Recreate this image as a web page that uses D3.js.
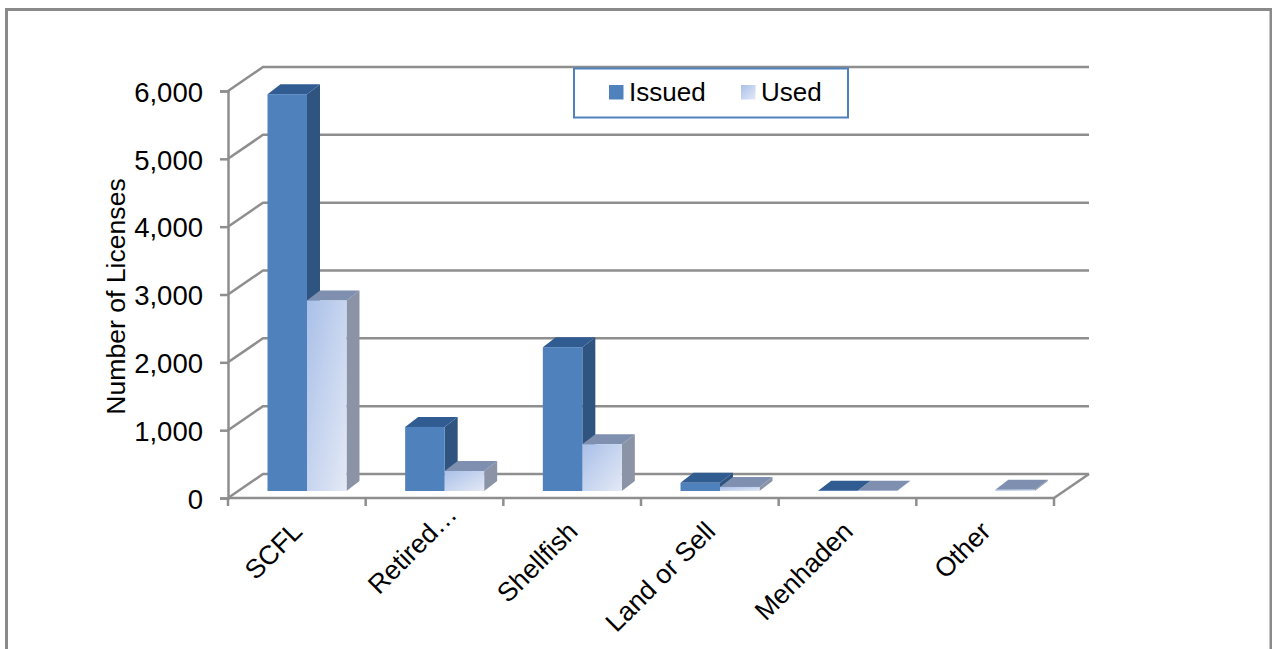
<!DOCTYPE html>
<html>
<head>
<meta charset="utf-8">
<script src="https://cdn.jsdelivr.net/npm/d3@7"></script>
<style>
  html, body { margin: 0; padding: 0; background: #fff; }
  svg { display: block; font-family: "Liberation Sans", Arial, sans-serif; fill: #000; }
</style>
</head>
<body>
<svg id="chart" width="1272" height="649"></svg>
<script>
// License counts by category
const categories = ["SCFL", "Retired\u2026", "Shellfish", "Land or Sell", "Menhaden", "Other"];
const issued = [5850, 945, 2120, 120, 5, 0];
const used = [2810, 295, 690, 60, 5, 20];
const yTicks = [0, 1000, 2000, 3000, 4000, 5000, 6000];
const seriesNames = ["Issued", "Used"];

const svg = d3.select("#chart");

// Plot geometry: front plane of the box, and the offset to its back wall
const plot = { left: 228, right: 1054, bottom: 498, top: 91 };
const wall = { dx: 35, dy: -24 };
const bar = { dx: 13, dy: -10, inset: 39.5, width: 39.5, floor: -7 };
const lineColor = "#8e8e8e";

const x = d3.scaleBand().domain(categories).range([plot.left, plot.right]);
const y = d3.scaleLinear().domain([0, 6000]).range([plot.bottom, plot.top]);

const palette = {
  issued: { front: "#4f81bd", side: "#2f5480", top: "#305c92" },
  used: { front: "url(#usedFill)", side: "#8b93a6", top: "#7f8fb0" }
};

// Pale blue fill of the second series
const defs = svg.append("defs");
const grad = defs.append("linearGradient").attr("id", "usedFill")
  .attr("x1", 0).attr("y1", 0).attr("x2", 1).attr("y2", 1);
grad.append("stop").attr("offset", "0%").attr("stop-color", "#a9c0e8");
grad.append("stop").attr("offset", "100%").attr("stop-color", "#e4e9f6");

// Outer frame
svg.append("path")
  .attr("d", "M6.5,649V9.5H1271V649")
  .attr("fill", "none").attr("stroke", "#8a8a8a").attr("stroke-width", 3);

// Back wall grid lines with their diagonals down to the axis
const grid = svg.append("g").attr("fill", "none")
  .attr("stroke", lineColor).attr("stroke-width", 2.5);
grid.selectAll("path").data(yTicks).join("path")
  .attr("d", t => d3.line()([
    [plot.left, y(t)],
    [plot.left + wall.dx, y(t) + wall.dy],
    [plot.right + wall.dx, y(t) + wall.dy]
  ]));
grid.append("path").attr("d", d3.line()([
  [plot.right, plot.bottom],
  [plot.right + wall.dx, plot.bottom + wall.dy]
]));

// Value axis
const yAxis = svg.append("g")
  .attr("transform", `translate(${plot.left},0)`)
  .call(d3.axisLeft(y).tickValues(yTicks).tickFormat(d3.format(",")).tickSize(8).tickPadding(17));
yAxis.selectAll("path, line").attr("stroke", lineColor).attr("stroke-width", 2.5);
yAxis.selectAll("text").attr("font-size", 27.5).attr("font-family", "inherit").attr("fill", "#000").attr("y", 1.5);

// Category axis: floor line, ticks on the band edges, slanted labels near the band centres
const xAxis = svg.append("g")
  .attr("transform", `translate(0,${plot.bottom})`)
  .call(d3.axisBottom(x).tickSize(0));
xAxis.select("path").remove();
xAxis.selectAll("text")
  .attr("font-size", 26.6).attr("font-family", "inherit").attr("fill", "#000")
  .attr("text-anchor", "end")
  .attr("dy", null).attr("y", 0)
  .attr("dx", d => d.endsWith("\u2026") ? "0.9em" : null)
  .attr("transform", "translate(7,35) rotate(-45)");
svg.append("line")
  .attr("x1", plot.left).attr("x2", plot.right)
  .attr("y1", plot.bottom).attr("y2", plot.bottom)
  .attr("stroke", lineColor).attr("stroke-width", 2.5);
const edges = categories.map(c => x(c)).concat([plot.right]);
svg.append("g").selectAll("line").data(edges).join("line")
  .attr("x1", d => d).attr("x2", d => d)
  .attr("y1", plot.bottom).attr("y2", plot.bottom + 8)
  .attr("stroke", lineColor).attr("stroke-width", 2.5);

// Axis title
svg.append("text")
  .attr("transform", "translate(125,296.5) rotate(-90)")
  .attr("text-anchor", "middle")
  .attr("font-size", 26.6)
  .text("Number of Licenses");

// Each bar is a box: front face, side face, top face
function drawBar(parent, x0, value, colors) {
  const x1 = x0 + bar.width;
  const base = plot.bottom + bar.floor;
  const top = base - (y(0) - y(value));
  const g = parent.append("g");
  g.append("path").attr("fill", colors.side).attr("d", d3.line()([
    [x1, top], [x1 + bar.dx, top + bar.dy], [x1 + bar.dx, base + bar.dy], [x1, base]
  ]));
  g.append("path").attr("fill", colors.top).attr("d", d3.line()([
    [x0, top], [x0 + bar.dx, top + bar.dy], [x1 + bar.dx, top + bar.dy], [x1, top]
  ]));
  g.append("rect").attr("fill", colors.front)
    .attr("x", x0).attr("y", top)
    .attr("width", bar.width).attr("height", base - top);
}

const bars = svg.append("g");
categories.forEach((c, i) => {
  const x0 = x(c) + bar.inset;
  if (issued[i] > 0) drawBar(bars, x0, issued[i], palette.issued);
  if (used[i] > 0) drawBar(bars, x0 + bar.width, used[i], palette.used);
});

// Legend
const legend = svg.append("g");
legend.append("rect")
  .attr("x", 574).attr("y", 68.5).attr("width", 274).attr("height", 49)
  .attr("fill", "#fff").attr("stroke", "#4f81bd").attr("stroke-width", 2);
const legendX = d3.scaleOrdinal().domain(seriesNames).range([609, 741]);
const legendItems = legend.selectAll("g").data(seriesNames).join("g")
  .attr("transform", d => `translate(${legendX(d)},85)`);
legendItems.append("rect")
  .attr("width", 14.5).attr("height", 14.5)
  .attr("fill", (d, i) => i === 0 ? palette.issued.front : palette.used.front);
legendItems.append("text")
  .attr("x", 20).attr("y", 16)
  .attr("font-size", 26)
  .text(d => d);
</script>
</body>
</html>
